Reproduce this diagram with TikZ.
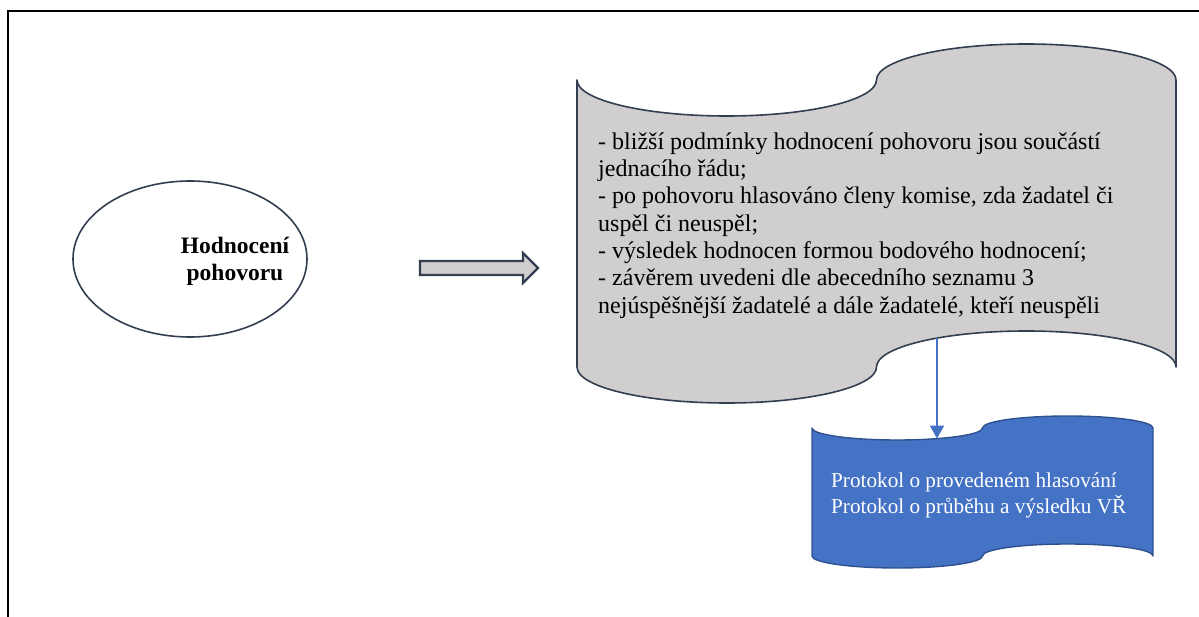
\documentclass[tikz,border=0pt]{standalone}
\usepackage{fontspec}
\setmainfont{Liberation Serif}
\newfontfamily\bodyserif{Liberation Serif}
\usetikzlibrary{arrows.meta,shapes.geometric}

\definecolor{tapefill}{HTML}{D0CECE}
\definecolor{tapeline}{HTML}{333F50}
\definecolor{flagfill}{HTML}{4472C4}
\definecolor{flagline}{HTML}{2F528F}
\definecolor{linkblue}{HTML}{4472C4}

\tikzset{
  frameline/.style={line width=2pt, black},
  tapeshape/.style={draw=tapeline, fill=tapefill, line width=1.6pt, line join=round},
  flagshape/.style={draw=flagline, fill=flagfill, line width=1.4pt, line join=round},
  blockarrow/.style={draw=tapeline, fill=tapefill, line width=2.2pt, line join=miter},
  startoval/.style={ellipse, draw=tapeline, fill=white, line width=1.6pt,
    minimum width=234pt, minimum height=156pt, inner sep=0pt},
  link/.style={draw=linkblue, line width=1.4pt,
    -{Triangle[width=14pt,length=13pt]}},
}

\begin{document}
\begin{tikzpicture}[x=1pt,y=-1pt]
\useasboundingbox (0,0) rectangle (1199,617);

% outer frame (top and left edges)
\draw[frameline] (8,617) -- (8,11) -- (1199,11);

% start oval and its label
\node[startoval] (start) at (190,259) {};
\node[anchor=north, inner sep=0pt, align=center,
      font=\bodyserif\bfseries\fontsize{23.5}{27}\selectfont] (startlabel)
      at (235,234.1) {\strut Hodnocení\\pohovoru};

% block arrow to the punched tape
\draw[blockarrow] (420,261) -- (523,261) -- (523,253) -- (538,268)
  -- (523,283) -- (523,275) -- (420,275) -- cycle;

% punched tape with the conditions
\draw[tapeshape] (577,80)
  arc[start angle=180, end angle=360, x radius=149.75pt, y radius=36pt]
  arc[start angle=180, end angle=0,   x radius=149.75pt, y radius=36pt]
  -- (1176,367)
  arc[start angle=0, end angle=180,   x radius=149.75pt, y radius=36pt]
  arc[start angle=0, end angle=-180,  x radius=149.75pt, y radius=36pt]
  -- cycle;
\node[anchor=north west, inner sep=0pt, align=left,
      font=\bodyserif\fontsize{24}{27.3}\selectfont] (tapetext) at (598,129.9)
  {\strut- bližší podmínky hodnocení pohovoru jsou součástí\\
   jednacího řádu;\\
   - po pohovoru hlasováno členy komise, zda žadatel či\\
   uspěl či neuspěl;\\
   - výsledek hodnocen formou bodového hodnocení;\\
   - závěrem uvedeni dle abecedního seznamu 3\\
   nejúspěšnější žadatelé a dále žadatelé, kteří neuspěli};
\coordinate (tapeexit) at (937,338);

% resulting documents
\draw[flagshape] (812,428)
  arc[start angle=180, end angle=360, x radius=85.25pt, y radius=12pt]
  arc[start angle=180, end angle=0,   x radius=85.25pt, y radius=12pt]
  -- (1153,556)
  arc[start angle=0, end angle=180,   x radius=85.25pt, y radius=12pt]
  arc[start angle=0, end angle=-180,  x radius=85.25pt, y radius=12pt]
  -- cycle;
\coordinate (flagentry) at (937,438.6);
\node[anchor=north west, inner sep=0pt, align=left, text=white,
      font=\bodyserif\fontsize{21.2}{22}\selectfont] (flagtext) at (831,471.6)
  {\strut Protokol o provedeném hlasování\\
   Protokol o průběhu a výsledku VŘ};

\draw[link] (tapeexit) -- (flagentry);
\end{tikzpicture}
\end{document}
